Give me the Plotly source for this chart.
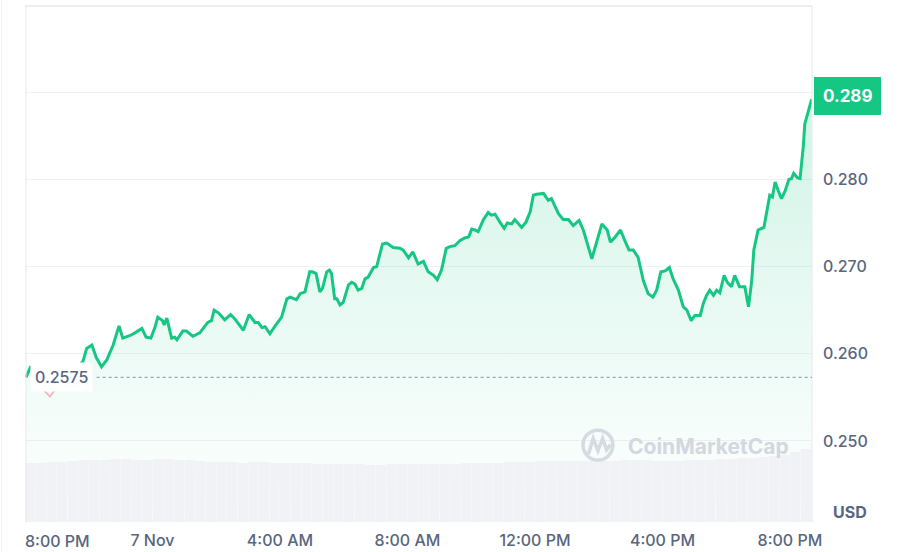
import plotly.graph_objects as go
import pandas as pd

# ---------------- data ----------------
times = [
    "2023-11-06 20:02", "2023-11-06 20:11", "2023-11-06 20:24", "2023-11-06 20:36", "2023-11-06 20:47",
    "2023-11-06 20:58", "2023-11-06 21:10", "2023-11-06 21:21", "2023-11-06 21:34", "2023-11-06 21:49",
    "2023-11-06 21:56", "2023-11-06 22:06", "2023-11-06 22:14", "2023-11-06 22:24", "2023-11-06 22:34",
    "2023-11-06 22:46", "2023-11-06 22:57", "2023-11-06 23:04", "2023-11-06 23:18", "2023-11-06 23:27",
    "2023-11-06 23:40", "2023-11-06 23:48", "2023-11-06 23:57",
    "2023-11-07 00:05", "2023-11-07 00:10", "2023-11-07 00:19", "2023-11-07 00:22", "2023-11-07 00:27",
    "2023-11-07 00:36", "2023-11-07 00:42", "2023-11-07 00:46", "2023-11-07 00:57", "2023-11-07 01:04",
    "2023-11-07 01:16", "2023-11-07 01:29", "2023-11-07 01:44", "2023-11-07 01:51", "2023-11-07 01:56",
    "2023-11-07 02:04", "2023-11-07 02:16", "2023-11-07 02:27", "2023-11-07 02:35", "2023-11-07 02:51",
    "2023-11-07 03:02", "2023-11-07 03:13", "2023-11-07 03:19", "2023-11-07 03:26", "2023-11-07 03:32",
    "2023-11-07 03:41", "2023-11-07 03:52", "2023-11-07 04:03", "2023-11-07 04:13", "2023-11-07 04:19",
    "2023-11-07 04:31", "2023-11-07 04:38", "2023-11-07 04:47", "2023-11-07 04:56", "2023-11-07 05:01",
    "2023-11-07 05:08", "2023-11-07 05:15", "2023-11-07 05:20", "2023-11-07 05:28", "2023-11-07 05:33",
    "2023-11-07 05:37", "2023-11-07 05:43", "2023-11-07 05:47", "2023-11-07 05:53", "2023-11-07 05:59",
    "2023-11-07 06:09", "2023-11-07 06:15", "2023-11-07 06:21", "2023-11-07 06:27", "2023-11-07 06:34",
    "2023-11-07 06:40", "2023-11-07 06:46", "2023-11-07 06:56", "2023-11-07 07:02", "2023-11-07 07:13",
    "2023-11-07 07:21", "2023-11-07 07:33", "2023-11-07 07:46", "2023-11-07 07:52", "2023-11-07 08:02",
    "2023-11-07 08:10", "2023-11-07 08:20", "2023-11-07 08:30", "2023-11-07 08:39", "2023-11-07 08:49",
    "2023-11-07 08:56", "2023-11-07 09:04", "2023-11-07 09:13", "2023-11-07 09:20", "2023-11-07 09:29",
    "2023-11-07 09:39", "2023-11-07 09:48", "2023-11-07 09:55", "2023-11-07 10:01", "2023-11-07 10:07",
    "2023-11-07 10:13", "2023-11-07 10:23", "2023-11-07 10:32", "2023-11-07 10:38", "2023-11-07 10:45",
    "2023-11-07 10:54", "2023-11-07 11:02", "2023-11-07 11:08", "2023-11-07 11:16", "2023-11-07 11:22",
    "2023-11-07 11:29", "2023-11-07 11:35", "2023-11-07 11:43", "2023-11-07 11:51", "2023-11-07 11:57",
    "2023-11-07 12:03", "2023-11-07 12:16", "2023-11-07 12:25", "2023-11-07 12:31", "2023-11-07 12:44",
    "2023-11-07 12:53", "2023-11-07 13:03", "2023-11-07 13:12", "2023-11-07 13:23", "2023-11-07 13:31",
    "2023-11-07 13:47", "2023-11-07 13:56", "2023-11-07 14:06", "2023-11-07 14:16", "2023-11-07 14:22",
    "2023-11-07 14:31", "2023-11-07 14:41", "2023-11-07 14:49", "2023-11-07 14:57", "2023-11-07 15:05",
    "2023-11-07 15:14", "2023-11-07 15:24", "2023-11-07 15:33", "2023-11-07 15:42", "2023-11-07 15:49",
    "2023-11-07 15:57", "2023-11-07 16:05", "2023-11-07 16:13", "2023-11-07 16:20", "2023-11-07 16:30",
    "2023-11-07 16:39", "2023-11-07 16:46", "2023-11-07 16:54", "2023-11-07 17:01", "2023-11-07 17:11",
    "2023-11-07 17:17", "2023-11-07 17:23", "2023-11-07 17:29", "2023-11-07 17:36", "2023-11-07 17:42",
    "2023-11-07 17:48", "2023-11-07 17:56", "2023-11-07 18:02", "2023-11-07 18:10", "2023-11-07 18:16",
    "2023-11-07 18:25", "2023-11-07 18:35", "2023-11-07 18:42", "2023-11-07 18:48", "2023-11-07 18:52",
    "2023-11-07 19:00", "2023-11-07 19:11", "2023-11-07 19:16", "2023-11-07 19:22", "2023-11-07 19:27",
    "2023-11-07 19:32", "2023-11-07 19:38", "2023-11-07 19:44", "2023-11-07 19:51", "2023-11-07 19:58",
    "2023-11-07 20:03", "2023-11-07 20:07", "2023-11-07 20:14", "2023-11-07 20:19", "2023-11-07 20:25",
    "2023-11-07 20:28", "2023-11-07 20:34", "2023-11-07 20:41",
]

prices = [
    0.2573, 0.2586, 0.2570, 0.2558, 0.2551,
    0.2560, 0.2570, 0.2579, 0.2581, 0.2591,
    0.2606, 0.2610, 0.2596, 0.2585, 0.2593,
    0.2610, 0.2632, 0.2618, 0.2621, 0.2624,
    0.2629, 0.2619, 0.2618,
    0.2631, 0.2642, 0.2638, 0.2633, 0.2641,
    0.2618, 0.2619, 0.2616, 0.2626, 0.2626,
    0.2620, 0.2624, 0.2636, 0.2638, 0.2650,
    0.2647, 0.2639, 0.2645, 0.2640, 0.2627,
    0.2645, 0.2636, 0.2636, 0.2630, 0.2631,
    0.2623, 0.2633, 0.2642, 0.2663, 0.2665,
    0.2662, 0.2669, 0.2671, 0.2694, 0.2694,
    0.2692, 0.2671, 0.2675, 0.2694, 0.2696,
    0.2692, 0.2663, 0.2663, 0.2656, 0.2659,
    0.2679, 0.2682, 0.2680, 0.2673, 0.2675,
    0.2686, 0.2688, 0.2699, 0.2700, 0.2726,
    0.2727, 0.2722, 0.2721, 0.2719, 0.2710,
    0.2717, 0.2703, 0.2706, 0.2694, 0.2690,
    0.2685, 0.2696, 0.2721, 0.2723, 0.2724,
    0.2730, 0.2733, 0.2734, 0.2743, 0.2742,
    0.2740, 0.2754, 0.2762, 0.2759, 0.2760,
    0.2751, 0.2744, 0.2750, 0.2749, 0.2754,
    0.2749, 0.2745, 0.2751, 0.2763, 0.2782,
    0.2783, 0.2784, 0.2776, 0.2778, 0.2761,
    0.2754, 0.2754, 0.2747, 0.2753, 0.2742,
    0.2709, 0.2728, 0.2749, 0.2742, 0.2728,
    0.2734, 0.2742, 0.2730, 0.2719, 0.2719,
    0.2711, 0.2684, 0.2669, 0.2665, 0.2673,
    0.2694, 0.2695, 0.2699, 0.2686, 0.2673,
    0.2654, 0.2650, 0.2638, 0.2644, 0.2644,
    0.2658, 0.2667, 0.2673, 0.2667, 0.2673,
    0.2670, 0.2690, 0.2682, 0.2677, 0.2690,
    0.2677, 0.2677, 0.2654, 0.2684, 0.2719,
    0.2742, 0.2745, 0.2763, 0.2782, 0.2780,
    0.2797, 0.2787, 0.2778, 0.2787, 0.2800,
    0.2801, 0.2807, 0.2802, 0.2801, 0.2837,
    0.2864, 0.2877, 0.2892,
]

# relative (24h rolling) volume shown as grey bars, one bar per 20 minutes
volumes = [
    59, 59, 60, 60, 61,
    62, 62, 62, 63, 63, 62, 62, 63, 63, 62, 62, 61,
    60, 60, 60, 59, 60, 60, 59, 59, 59, 59,
    58, 58, 58, 58, 58, 57, 57, 58, 58, 58, 58, 58, 58, 58, 59, 59, 59, 59,
    60, 60, 60, 61, 61, 61, 61,
    61, 61, 61, 61, 62, 62, 62, 61, 61, 61, 62, 62, 62,
    63, 63, 64, 64, 65, 66,
    67, 70, 73, 76,
]
volume_times = pd.date_range("2023-11-06 20:10", periods=len(volumes), freq="20min")

open_price = 0.2573
open_label = "0.2575"
last_label = "0.289"

x_tickvals = ["2023-11-07 00:00", "2023-11-07 04:00", "2023-11-07 08:00",
              "2023-11-07 12:00", "2023-11-07 16:00", "2023-11-07 20:00"]
x_ticktext = ["7 Nov", "4:00 AM", "8:00 AM", "12:00 PM", "4:00 PM", "8:00 PM"]
first_tick_label = "8:00 PM"
y_tickvals = [0.25, 0.26, 0.27, 0.28, 0.29]
y_ticktext = ["0.250", "0.260", "0.270", "0.280", ""]

# ---------------- style ----------------
GREEN = "#16c784"
GREY_TXT = "#58667e"
GRID = "#eff2f5"
FONT = "Inter, Roboto, sans-serif"

fig = go.Figure()

# price area (fill only)
fig.add_trace(go.Scatter(
    x=times, y=prices, mode="lines",
    line=dict(color="rgba(0,0,0,0)", width=0),
    fill="tozeroy",
    fillgradient=dict(type="vertical",
                      colorscale=[[0, "rgba(22,199,132,0.0)"],
                                  [1, "rgba(22,199,132,0.20)"]],
                      start=0.2407, stop=0.29),
    hoverinfo="skip", showlegend=False,
))

# green line for the part at/above the open price
green_y = [p if p >= open_price else None for p in prices]
fig.add_trace(go.Scatter(
    x=times, y=green_y, mode="lines",
    line=dict(color=GREEN, width=3),
    hoverinfo="skip", showlegend=False, connectgaps=False,
))

# portion below the open price drawn in (faint) red
red_y = [p if p < open_price else None for p in prices]
fig.add_trace(go.Scatter(
    x=times, y=red_y, mode="lines",
    line=dict(color="rgba(234,57,67,0.35)", width=2),
    hoverinfo="skip", showlegend=False, connectgaps=False,
))

# volume bars on an overlaid axis
fig.add_trace(go.Bar(
    x=volume_times, y=volumes, yaxis="y2",
    marker=dict(color="#f0f2f5", line=dict(width=0)),
    hoverinfo="skip", showlegend=False,
))

fig.update_layout(
    width=916, height=552,
    margin=dict(l=25, r=104, t=6, b=30, autoexpand=False),
    paper_bgcolor="white", plot_bgcolor="white",
    font=dict(family=FONT, color=GREY_TXT, size=16),
    bargap=0.03,
    xaxis=dict(
        type="date", automargin=False,
        range=["2023-11-06 20:00", "2023-11-07 20:41:30"],
        tickvals=x_tickvals, ticktext=x_ticktext,
        showgrid=False, zeroline=False, showline=False,
        ticks="", ticklabelstandoff=7,
        tickfont=dict(size=16, color=GREY_TXT, family=FONT, weight=500),
    ),
    yaxis=dict(
        side="right", automargin=False, range=[0.2407, 0.2999],
        tickvals=y_tickvals, ticktext=y_ticktext,
        showgrid=True, gridcolor=GRID, gridwidth=1,
        zeroline=False, showline=False, ticks="",
        ticklabelstandoff=10,
        tickfont=dict(size=16, color=GREY_TXT, family=FONT, weight=500),
    ),
    yaxis2=dict(overlaying="y", range=[0, 516], visible=False, fixedrange=True),
    showlegend=False,
)

shapes = [
    # frame lines
    dict(type="line", xref="paper", yref="paper", x0=0.0013, x1=0.0013, y0=0, y1=1,
         line=dict(color="#e6e8ec", width=1)),
    dict(type="line", xref="paper", yref="paper", x0=1, x1=1, y0=0, y1=1,
         line=dict(color="#e6e8ec", width=1)),
    dict(type="line", xref="paper", yref="paper", x0=0, x1=1, y0=1, y1=1,
         line=dict(color="#e6e8ec", width=1.5)),
    dict(type="line", xref="paper", yref="paper", x0=-0.0299, x1=-0.0299, y0=-0.06, y1=1.02,
         line=dict(color="#f0f1f3", width=1)),
    # dotted open-price line
    dict(type="line", xref="paper", yref="y", x0=0.091, x1=1, y0=open_price, y1=open_price,
         line=dict(color="#9aa3b1", width=1.2, dash="dot")),
    # CoinMarketCap watermark logo
    dict(type="circle", xref="paper", yref="paper", x0=0.709, x1=0.747, y0=0.120, y1=0.178,
         line=dict(color="#d6dae1", width=3.5)),
    dict(type="path", xref="paper", yref="paper",
         path="M 0.716 0.132 L 0.722 0.162 L 0.728 0.138 L 0.734 0.162 L 0.739 0.140 L 0.744 0.150",
         line=dict(color="#d6dae1", width=3.5)),
]
fig.update_layout(shapes=shapes)

annotations = [
    # last price badge
    dict(xref="paper", yref="y", x=1.002, y=prices[-1] + 0.0004, xanchor="left", yanchor="middle",
         text="<b>" + last_label + "</b>", showarrow=False,
         font=dict(color="white", size=17, family=FONT),
         bgcolor=GREEN, bordercolor=GREEN, borderwidth=1, borderpad=8),
    # open price label
    dict(xref="paper", yref="y", x=0.047, y=open_price, xanchor="center", yanchor="middle",
         text=open_label, showarrow=False,
         font=dict(color=GREY_TXT, size=16, family=FONT, weight=500),
         bgcolor="white", borderpad=4),
    # first x label (shifted inside)
    dict(xref="paper", yref="paper", x=0.0419, y=0, yshift=-19, xanchor="center", yanchor="middle",
         text=first_tick_label, showarrow=False,
         font=dict(color=GREY_TXT, size=16, family=FONT, weight=500)),
    # currency label
    dict(xref="paper", yref="paper", x=1.048, y=0.019, xanchor="center", yanchor="middle",
         text="<b>USD</b>", showarrow=False,
         font=dict(color=GREY_TXT, size=16, family=FONT)),
    # watermark text
    dict(xref="paper", yref="paper", x=0.868, y=0.147, xanchor="center", yanchor="middle",
         text="<b>CoinMarketCap</b>", showarrow=False,
         font=dict(color="#d3d7de", size=21, family=FONT)),
]
fig.update_layout(annotations=annotations)

fig.write_html("out.html", config={"displayModeBar": False},
               post_script="document.body.style.margin='0';")
